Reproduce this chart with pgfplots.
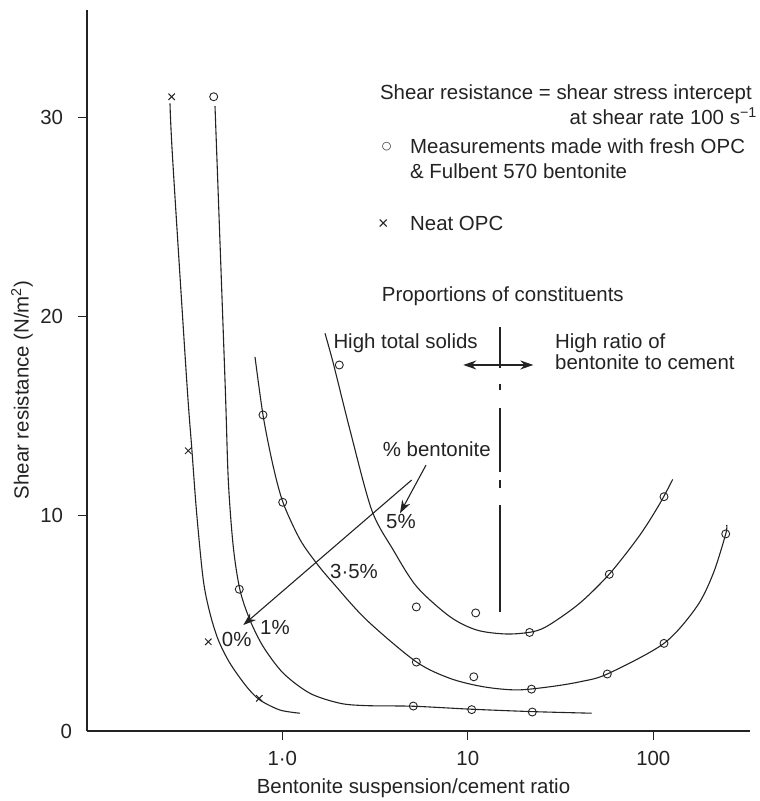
\documentclass[border=0pt]{standalone}
\usepackage{fontspec}
\setmainfont{Liberation Sans}
\newfontfamily\dejavu{DejaVu Sans}
\usepackage{pgfplots}
\pgfplotsset{compat=1.18}
\usetikzlibrary{arrows.meta}
\definecolor{ink}{RGB}{35,35,35}

\begin{document}
\fontsize{20.5}{24}\selectfont
\begin{tikzpicture}[font=\fontsize{20.5}{24}\selectfont, lab/.style={inner sep=0pt, text=ink}]
\path[use as bounding box] (0,0) rectangle (760bp,801bp);
\begin{axis}[
  at={(87bp,70bp)}, anchor=south west,
  scale only axis, width=663bp, height=721bp,
  xmode=log, xmin=0.08856, xmax=332.1, ymin=-0.824, ymax=35.41,
  axis x line*=bottom, axis y line*=left,
  axis line style={line width=1.4bp, ink},
  xtick={1,10,100}, xticklabels={1·0,10,100},
  ytick={10,20,30}, yticklabels={10,20,30},
  extra y ticks={-0.824}, extra y tick labels={0},
  extra y tick style={major tick length=0pt},
  xminorticks=false, yminorticks=false,
  tick align=outside, major tick length=9bp,
  every tick/.style={line width=1.2bp, ink},
  tick label style={font=\fontsize{20.5}{24}\selectfont, text=ink},
  xticklabel style={yshift=-4bp},
  yticklabel style={xshift=-8bp},
  clip=false,
]
% 0% bentonite (neat OPC) curve
\addplot[ink, line width=1.1bp, smooth, tension=0.5] coordinates {
(0.2481,30.72) (0.2566,27.87) (0.3052,16.81) (0.3247,13.46) (0.3455,10.12)
(0.3751,6.76) (0.4076,5.09) (0.4519,3.75) (0.5224,2.58) (0.6428,1.40)
(0.7584,0.73) (0.9719,0.23) (1.2458,0.07)};
% 1% curve
\addplot[ink, line width=1.1bp, smooth, tension=0.5] coordinates {
(0.4338,30.58) (0.4911,16.81) (0.5116,11.79) (0.5442,8.44) (0.5915,6.26)
(0.6696,4.75) (0.7900,3.41) (1.0125,2.08) (1.4104,1.07) (2.0471,0.57)
(2.851,0.45) (5.085,0.42) (10.50,0.27) (22.27,0.15) (46.55,0.07)};
% 3.5% curve
\addplot[ink, line width=1.1bp, smooth, tension=0.5] coordinates {
(0.7126,17.98) (0.7900,14.97) (0.8943,12.46) (1.0125,10.62) (1.2458,8.80)
(1.5322,7.60) (1.8836,6.60) (2.851,4.75) (5.258,2.66) (8.017,1.82)
(12.12,1.40) (18.35,1.24) (27.74,1.40) (40.26,1.65) (56.49,2.04)
(114.2,3.58) (171.4,5.42) (210.6,7.10) (245.7,9.08) (248.7,9.53)};
% 5% curve
\addplot[ink, line width=1.1bp, smooth, tension=0.5] coordinates {
(1.699,19.16) (1.884,17.65) (2.317,14.30) (3.034,10.28) (3.967,8.27)
(5.303,6.43) (8.017,4.92) (11.17,4.25) (16.21,4.05) (22.55,4.17)
(27.74,4.53) (40.26,5.61) (58.42,7.10) (84.79,9.03) (108.7,10.62) (127.2,11.82)};
% measurements (circles)
\addplot[only marks, mark=o, mark size=4bp, mark options={line width=0.9bp, ink}] coordinates {
(0.4268,31.05) (0.5863,6.30) (5.085,0.43) (10.50,0.25) (22.27,0.13)
(0.787,15.06) (1.005,10.67) (5.278,2.64) (10.77,1.90) (22.05,1.28)
(56.49,2.04) (114.2,3.58) (245.7,9.08)
(2.029,17.57) (5.278,5.41) (11.03,5.11) (21.54,4.13) (57.91,7.05) (114.2,10.95)};
% neat OPC (crosses)
\addplot[only marks, mark=x, mark size=4.5bp, mark options={line width=1bp, ink}] coordinates {
(0.2534,31.05) (0.3113,13.26) (0.3991,3.66) (0.7518,0.82)};
% % bentonite arrows
\addplot[ink, line width=1.1bp, -{Stealth[length=13bp,width=9bp]}] coordinates {(4.984,11.79) (0.6163,4.50)};
\addplot[ink, line width=1.1bp, -{Stealth[length=13bp,width=9bp]}] coordinates {(5.953,12.54) (4.311,10.12)};
% proportions double arrow
\addplot[ink, line width=1.1bp, {Stealth[length=13bp,width=9bp]}-{Stealth[length=13bp,width=9bp]}] coordinates {(9.456,17.57) (22.55,17.57)};
% dash-dot divider
\addplot[ink, line width=1.1bp, dash pattern=on 41bp off 16bp on 6bp off 18bp on 64bp off 8bp on 8bp off 17bp on 110bp] coordinates {(14.92,19.48) (14.92,5.16)};
\end{axis}
% texts
\node[lab, anchor=base east] at (752bp,701.7bp) {Shear resistance = shear stress intercept};
\node[lab, anchor=base east] at (757bp,676bp) {at shear rate 100 s\textsuperscript{−1}};
\node[lab, anchor=center] at (386.7bp,654.3bp) {\dejavu\fontsize{11}{11}\selectfont ○};
\node[lab, anchor=base west] at (410bp,647bp) {Measurements made with fresh OPC};
\node[lab, anchor=base west] at (410bp,622.7bp) {\& Fulbent 570 bentonite};
\node[lab, anchor=center] at (383.3bp,576bp) {\fontsize{18}{18}\selectfont ×};
\node[lab, anchor=base west] at (410bp,570.3bp) {Neat OPC};
\node[lab, anchor=base west] at (381.7bp,499bp) {Proportions of constituents};
\node[lab, anchor=base west] at (333.3bp,452.7bp) {High total solids};
\node[lab, anchor=base west] at (555bp,452.7bp) {High ratio of};
\node[lab, anchor=base west] at (555bp,431.7bp) {bentonite to cement};
\node[lab, anchor=base west] at (382.7bp,344.3bp) {\% bentonite};
\node[lab, anchor=base west] at (386bp,272.7bp) {5\%};
\node[lab, anchor=base west] at (330bp,222.7bp) {3·5\%};
\node[lab, anchor=base west] at (221.7bp,154.3bp) {0\%};
\node[lab, anchor=base west] at (260bp,166bp) {1\%};
\node[lab, anchor=base] at (413.5bp,7.7bp) {Bentonite suspension/cement ratio};
\node[lab, rotate=90, anchor=center] at (22bp,411bp) {Shear resistance (N/m\textsuperscript{2})};
\end{tikzpicture}
\end{document}
